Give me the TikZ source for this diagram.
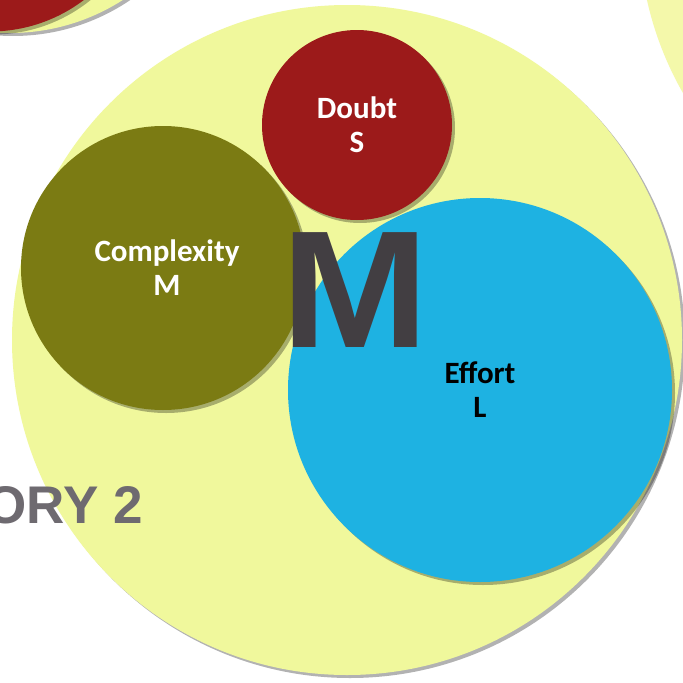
\documentclass[tikz,border=0pt]{standalone}
\usepackage{fontspec}
\setmainfont{Carlito}
\newfontfamily\bigsans{Liberation Sans}
\usetikzlibrary{shadows}
\definecolor{bigyellow}{RGB}{240,248,156}
\definecolor{paleyellow}{RGB}{244,248,170}
\definecolor{doubtred}{RGB}{156,26,26}
\definecolor{olive}{RGB}{123,123,19}
\definecolor{effortblue}{RGB}{30,178,226}
\definecolor{mgray}{RGB}{66,62,66}
\definecolor{catgray}{RGB}{110,106,112}
\tikzset{
  bubble/.style={circle, inner sep=0pt, align=center,
    font=\fontsize{31}{34}\selectfont\bfseries,
    drop shadow={shadow xshift=3pt, shadow yshift=-3pt, opacity=0.3, fill=black}},
}
\begin{document}
\begin{tikzpicture}[x=1pt, y=-1pt]
\useasboundingbox (0,0) rectangle (683,683);
\clip (0,0) rectangle (683,683);
\fill[white] (0,0) rectangle (683,683);
% neighbouring bubbles, cut by the frame
\node (nbright) [bubble, fill=paleyellow, minimum size=670pt] at (974,-73) {};
\node (nbleftrim) [bubble, fill=bigyellow, minimum size=418pt] at (10,-176) {};
\node (nbleft) [bubble, fill=doubtred, minimum size=311pt] at (-10,-124) {};
% main bubble
\node (main) [bubble, fill=bigyellow, minimum size=670pt] at (347,340) {};
\node (complexity) [bubble, fill=olive, text=white, minimum size=284pt] at (163,268) {\hspace*{8pt}Complexity\\\hspace*{8pt}M};
\node (effort) [bubble, fill=effortblue, text=black, minimum size=384pt] at (480,390) {Effort\\L};
\node (doubt) [bubble, fill=doubtred, text=white, minimum size=190pt] at (357,125) {Doubt\\S};
% size label
\node (size) [anchor=base, inner sep=0pt, text=mgray, xscale=1.06, font=\bigsans\fontsize{167}{167}\selectfont\bfseries] at (355,347) {M};
% category label
\node (cat) [anchor=base east, inner sep=0pt, text=catgray, font=\bigsans\fontsize{53}{53}\selectfont\bfseries] at (143,523) {ORY 2};
\end{tikzpicture}
\end{document}
